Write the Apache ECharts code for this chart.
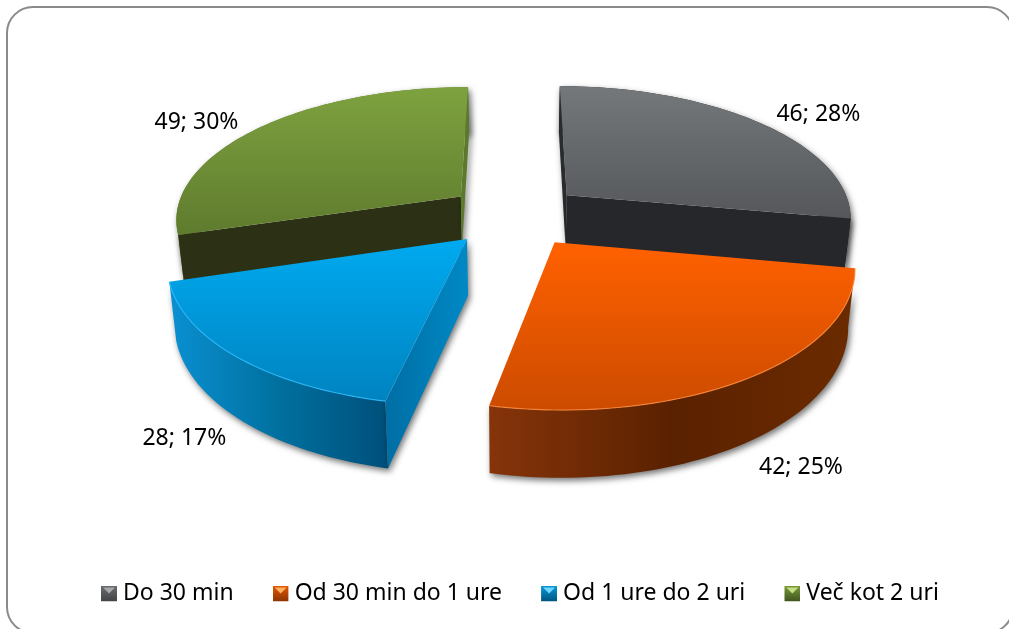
<!DOCTYPE html>
<html>
<head>
<meta charset="utf-8">
<style>html,body{margin:0;padding:0;background:#fff}#c{width:1009px;height:629px}</style>
<script src="https://cdn.jsdelivr.net/npm/echarts@6/dist/echarts.min.js"></script>
</head>
<body>
<div id="c"></div>
<script>
// ---- data ----
const categories = ['Do 30 min', 'Od 30 min do 1 ure', 'Od 1 ure do 2 uri', 'Več kot 2 uri'];
const counts = [46, 42, 28, 49];
const percentLabels = ['28%', '25%', '17%', '30%'];

// ---- look ----
const FONT = '"Noto Sans", "Open Sans", sans-serif';
const FONT_SIZE = 23;
const paints = [
  { top: ['#74787b', '#55575a'], rim: ['#2a2b2d', '#2a2b2d'], wallA: '#2a2b2d', wallB: '#26272a', icon: ['#a6a8aa', '#6a6c6f', '#434446'] },
  { top: ['#ff6100', '#cc4b00'], rim: ['#86340a', '#5a2100', '#6c2b00'], wallA: '#7a2e00', wallB: '#7a2e00', edge: '#ff8a3c', icon: ['#ffb060', '#e65a05', '#8a3300'] },
  { top: ['#00aaf0', '#0083c0'], rim: ['#0a90d2', '#00709f', '#004f7a'], wallA: ['#006ea4', '#0089c6'], wallB: '#006ea4', edge: '#2bbcff', icon: ['#6fd6ff', '#0a98da', '#00557f'] },
  { top: ['#7ea23f', '#5f7b2e'], rim: ['#5f7b2e', '#5f7b2e'], wallA: '#2c3115', wallB: '#5c7a2c', icon: ['#c4de84', '#7a9c3a', '#3f5320'] }
];
// projection of the pie plane
const CX = 515, KX = 286, PERSP = 0.157, YA = -625, YC = 840, DEPTH = 55, SHRINK = 0.98, EXPLODE = 0.241;
// label nudge away from the outer rim, per slice
const labelNudge = [[61, -7], [55, 25], [-56, 18], [-63, -5]];

const total = counts.reduce((a, b) => a + b, 0);
const D2R = Math.PI / 180;

function sliceAngles(i) {
  let s = 0;
  for (let k = 0; k < i; k++) s += counts[k];
  return [s / total * 360, (s + counts[i]) / total * 360];
}
function proj(X, Y) {
  const p = 1 / (1 + PERSP * Y);
  return { x: CX + KX * X * p, y: YA + YC * p, p };
}
function upperPt(pt) { return [pt.x, pt.y]; }
function lowerPt(pt) { return [CX + (pt.x - CX) * SHRINK, pt.y + DEPTH * pt.p]; }
function grad(stops, horizontal) {
  const n = stops.length - 1;
  return new echarts.graphic.LinearGradient(0, 0, horizontal ? 1 : 0, horizontal ? 0 : 1,
    stops.map((c, i) => ({ offset: i / n, color: c })));
}
function paintOf(c) { return Array.isArray(c) ? grad(c, true) : c; }
function signedArea(pts) {
  let s = 0;
  pts.forEach((q, k) => { const r = pts[(k + 1) % pts.length]; s += q[0] * r[1] - r[0] * q[1]; });
  return s;
}
const SHADOW = { shadowBlur: 6, shadowColor: 'rgba(0,0,0,0.55)', shadowOffsetX: 2, shadowOffsetY: 3 };

function renderSlice(i) {
  return function () {
    const [a0, a1] = sliceAngles(i);
    const mid = (a0 + a1) / 2 * D2R;
    const ox = EXPLODE * Math.sin(mid), oy = EXPLODE * Math.cos(mid);
    const apex = proj(ox, oy);
    const arc = [];
    for (let a = a0; ; a += 1.5) {
      const t = Math.min(a, a1) * D2R;
      arc.push(proj(ox + Math.sin(t), oy + Math.cos(t)));
      if (a >= a1) break;
    }
    const arcTop = arc.map(upperPt), arcBot = arc.map(lowerPt);
    const paint = paints[i];
    const kids = [];
    // outer rim
    kids.push({ type: 'polygon', shape: { points: arcTop.concat(arcBot.slice().reverse()) },
      style: Object.assign({ fill: grad(paint.rim, true) }, SHADOW) });
    // radial side walls, only where they face the viewer
    const wallPts = pt => [upperPt(apex), upperPt(pt), lowerPt(pt), lowerPt(apex)];
    const startWall = wallPts(arc[0]), endWall = wallPts(arc[arc.length - 1]);
    if (signedArea(startWall) < 0) {
      kids.push({ type: 'polygon', shape: { points: startWall }, style: Object.assign({ fill: paintOf(paint.wallA) }, SHADOW) });
    }
    if (signedArea(endWall) > 0) {
      kids.push({ type: 'polygon', shape: { points: endWall }, style: Object.assign({ fill: paintOf(paint.wallB) }, SHADOW) });
    }
    // top face
    kids.push({ type: 'polygon', shape: { points: [upperPt(apex)].concat(arcTop) },
      style: { fill: grad(paint.top, false) } });
    if (paint.edge) {
      kids.push({ type: 'polyline', shape: { points: arcTop },
        style: { fill: null, stroke: paint.edge, lineWidth: 1.2, opacity: 0.8 } });
    }
    // label
    const rimMid = proj(ox + Math.sin(mid), oy + Math.cos(mid));
    const anchor = Math.cos(mid) < 0 ? lowerPt(rimMid) : upperPt(rimMid);
    kids.push({ type: 'text', z2: 10, style: {
      text: counts[i] + '; ' + percentLabels[i],
      x: anchor[0] + labelNudge[i][0], y: anchor[1] + labelNudge[i][1],
      fill: '#000', font: FONT_SIZE + 'px ' + FONT, textAlign: 'center', textVerticalAlign: 'middle' } });
    return { type: 'group', children: kids };
  };
}
function iconUri(c) {
  const svg = '<svg xmlns="http://www.w3.org/2000/svg" width="16" height="16">' +
    '<defs><linearGradient id="g" x1="0" y1="0" x2="0" y2="1"><stop offset="0" stop-color="' + c[1] + '"/>' +
    '<stop offset="1" stop-color="' + c[2] + '"/></linearGradient></defs>' +
    '<rect width="16" height="16" fill="url(#g)"/>' +
    '<polygon points="2,2 14,2 8,8" fill="' + c[0] + '"/></svg>';
  return 'image://data:image/svg+xml;charset=utf-8,' + encodeURIComponent(svg);
}

const drawOrder = [0, 3, 2, 1];
const chart = echarts.init(document.getElementById('c'), null, { renderer: 'canvas' });
chart.setOption({
  animation: false,
  backgroundColor: '#fff',
  graphic: [{ type: 'rect', left: 6, top: 6, silent: true, z: -1,
    shape: { x: 0, y: 0, width: 1006, height: 626, r: 26 },
    style: { fill: '#fff', stroke: '#8a8a8a', lineWidth: 2 } }],
  legend: {
    left: 101, top: 582, itemWidth: 16, itemHeight: 16, itemGap: 39, padding: 0,
    selectedMode: false,
    textStyle: { fontFamily: FONT, fontSize: FONT_SIZE, color: '#000', padding: [0, 0, 0, 1] },
    data: categories.map((n, i) => ({ name: n, icon: iconUri(paints[i].icon) }))
  },
  series: drawOrder.map((i, k) => ({
    type: 'custom', name: categories[i], coordinateSystem: 'none', silent: true, z: 2 + k,
    data: [counts[i]], renderItem: renderSlice(i)
  }))
});
</script>
</body>
</html>
